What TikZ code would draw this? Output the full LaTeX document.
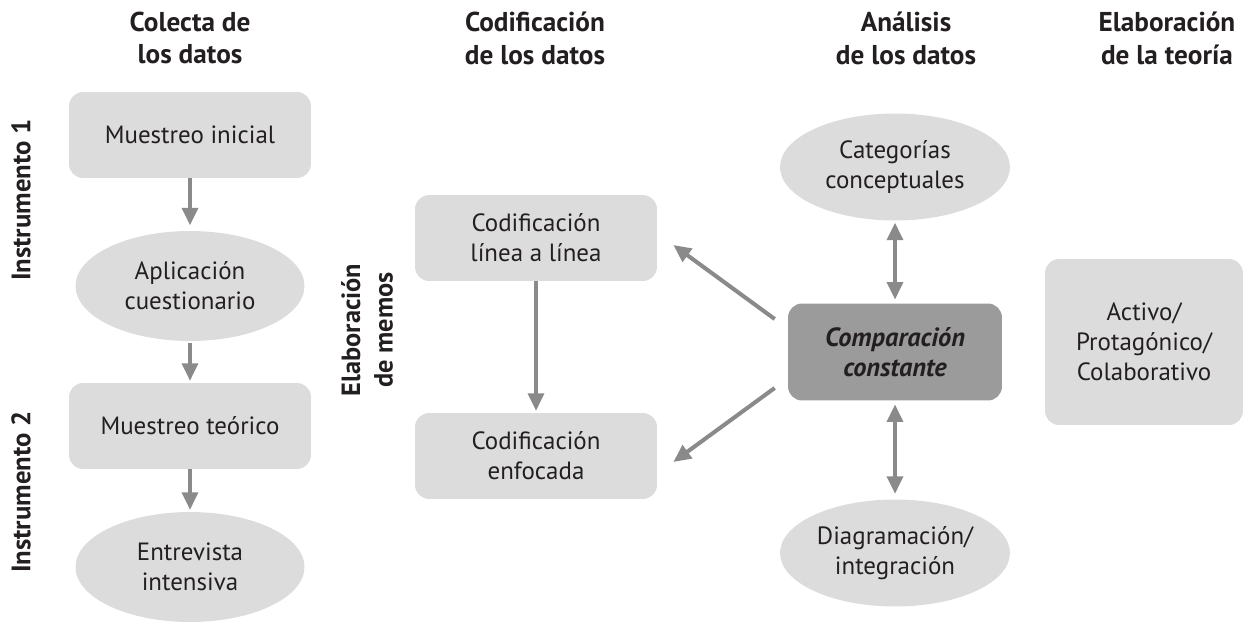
\documentclass[tikz,border=0pt]{standalone}
\usepackage{fontspec}
\setmainfont{PT Sans}
\usetikzlibrary{shapes.geometric,arrows.meta,calc}
\definecolor{boxfill}{HTML}{DCDCDC}
\definecolor{darkfill}{HTML}{9B9B9B}
\definecolor{arrowc}{HTML}{8A8A8A}
\definecolor{txt}{HTML}{231F20}
\tikzset{
  base/.style={fill=boxfill, draw=none, text=txt, align=center, inner sep=0pt,
    font=\fontsize{14.2}{17}\selectfont},
  rbox/.style={base, rectangle, rounded corners=8pt, minimum width=4.84cm, minimum height=1.72cm},
  ebox/.style={base, ellipse, minimum width=4.58cm, minimum height=2.2cm},
  head/.style={text=txt, align=center, font=\fontsize{15.5}{18.7}\selectfont\bfseries},
  side/.style={text=txt, align=center, rotate=90, font=\fontsize{15.2}{18}\selectfont\bfseries},
  arr/.style={draw=arrowc, line width=2.3pt, -{Triangle[width=9pt,length=10pt]}},
  darr/.style={draw=arrowc, line width=2.3pt, {Triangle[width=9pt,length=10pt]}-{Triangle[width=9pt,length=10pt]}}
}
\begin{document}
\begin{tikzpicture}[x=0.02cm,y=-0.02cm]
\useasboundingbox (0,0) rectangle (1244,622);
% headers
\node[head] (h1) at (190,38) {Colecta de\\los datos};
\node[head] (h2) at (535,38) {Codificación\\de los datos};
\node[head] (h3) at (906,38) {Análisis\\de los datos};
\node[head] (h4) at (1167,38) {Elaboración\\de la teoría};
% side labels
\node[side] (i1) at (21,200) {Instrumento 1};
\node[side] (i2) at (21,492) {Instrumento 2};
\node[side, font=\fontsize{15}{18.5}\selectfont\bfseries] (mem) at (367,330) {Elaboración\\de memos};
% column 1
\node[rbox] (mi) at (190,135) {Muestreo inicial};
\node[ebox] (ac) at (190,286) {Aplicación\\cuestionario};
\node[rbox] (mt) at (190,426) {Muestreo teórico};
\node[ebox] (ei) at (190,567) {Entrevista\\intensiva};
% column 2
\node[rbox] (cl) at (536,238) {Codificación\\línea a línea};
\node[rbox] (ce) at (536,456) {Codificación\\enfocada};
% column 3
\node[base, rectangle, rounded corners=8pt, fill=darkfill, minimum width=4.28cm, minimum height=1.94cm,
  font=\fontsize{15}{17}\selectfont\bfseries\itshape] (cc) at (895,352) {Comparación\\constante};
\node[ebox, minimum width=4.6cm, minimum height=2.14cm] (cat) at (895,167) {Categorías\\conceptuales};
\node[ebox, minimum width=4.6cm, minimum height=2.14cm] (dia) at (895,553) {Diagramación/\\integración};
% column 4
\node[base, rectangle, rounded corners=8pt, minimum width=3.96cm, minimum height=3.32cm] (act) at (1144,342) {Activo/\\Protagónico/\\Colaborativo};
% arrows
\draw[arr, shorten >=3pt] (mi) -- (ac);
\draw[arr, shorten >=1pt, shorten <=1pt] (ac) -- (mt);
\draw[arr, shorten >=1pt] (mt) -- (ei);
\draw[arr, shorten >=1pt] (cl) -- (ce);
\draw[arr] ($(cc.west)+(-13,-33)$) -- ($(cl.east)+(16,7)$);
\draw[arr] ($(cc.west)+(-13,36)$) -- ($(ce.east)+(16,6)$);
\draw[darr, shorten >=2pt, shorten <=1pt] (cat) -- (cc);
\draw[darr, shorten >=3pt, shorten <=2pt] (cc) -- (dia);
\end{tikzpicture}
\end{document}
